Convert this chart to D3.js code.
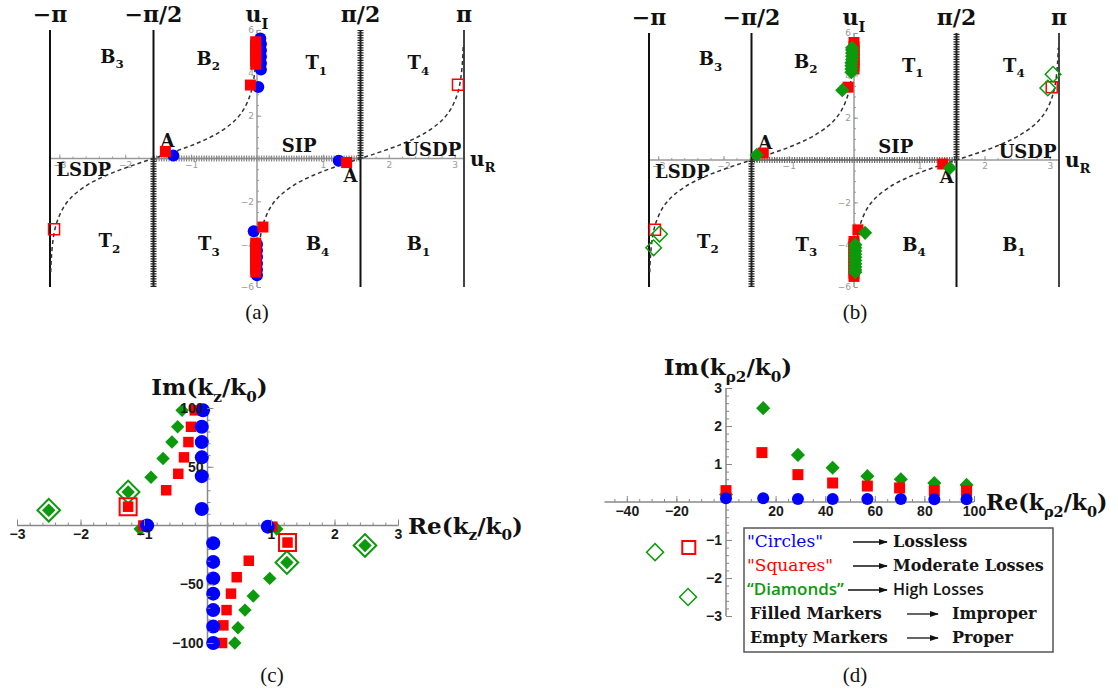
<!DOCTYPE html>
<html>
<head>
<meta charset="utf-8">
<script src="https://cdn.jsdelivr.net/npm/d3@7"></script>
<style>
  body { margin: 0; background: #fff; }
  svg { display: block; }
</style>
</head>
<body>
<div id="chart"></div>
<script>
const PI = Math.PI;

// ---- (a) / (b): complex u-plane ----
const topTickValues = [-PI, -PI / 2, 0, PI / 2, PI];
const topTickLabels = ["−π", "−π/2", "u_I", "π/2", "π"];
const uRTicks = [-3, -2, -1, 1, 2, 3];
const uITicks = [-6, -4, -2, 2, 4, 6];

// [u_R, u_I from, u_I to]
const branchSolid = [[-PI, -6, 6], [-PI / 2, 0, 6], [PI / 2, -6, 0], [PI, -6, 6]];
const branchHatched = [[-PI / 2, -6, 0], [PI / 2, 0, 6]];
const realCut = [-PI / 2, PI / 2];

// dashed steepest descent paths
const sdpLeft = [[-3.13, -5.3], [-3.12, -4.6], [-3.09, -3.69], [-3.04, -3.0], [-2.94, -2.3], [-2.84, -1.89],
  [-2.74, -1.6], [-2.54, -1.17], [-2.34, -0.86], [-2.14, -0.6], [-1.94, -0.38], [-1.74, -0.17], [-1.57, 0],
  [-1.4, 0.17], [-1.2, 0.38], [-1.0, 0.6], [-0.8, 0.86], [-0.6, 1.17], [-0.4, 1.6], [-0.3, 1.89], [-0.2, 2.3],
  [-0.1, 3.0], [-0.05, 3.69], [-0.02, 4.6], [-0.01, 5.3]];
const sdpRight = [[0.01, -5.3], [0.02, -4.6], [0.05, -3.69], [0.1, -3.0], [0.2, -2.3], [0.3, -1.89], [0.4, -1.6],
  [0.6, -1.17], [0.8, -0.86], [1.0, -0.6], [1.2, -0.38], [1.4, -0.17], [1.57, 0], [1.74, 0.17], [1.94, 0.38],
  [2.14, 0.6], [2.34, 0.86], [2.54, 1.17], [2.74, 1.6], [2.84, 1.89], [2.94, 2.3], [3.04, 3.0], [3.09, 3.69],
  [3.12, 4.6], [3.13, 5.3]];

const regionLabels = [
  { text: ["B", ["3"]], at: [-2.2, 4.75] }, { text: ["B", ["2"]], at: [-0.74, 4.65] },
  { text: ["T", ["1"]], at: [0.9, 4.45] }, { text: ["T", ["4"]], at: [2.45, 4.45] },
  { text: ["T", ["2"]], at: [-2.24, -3.87] }, { text: ["T", ["3"]], at: [-0.73, -4.0] },
  { text: ["B", ["4"]], at: [0.92, -4.0] }, { text: ["B", ["1"]], at: [2.45, -4.0] },
  { text: ["LSDP"], at: [-2.63, -0.55] }, { text: ["SIP"], at: [0.64, 0.6] },
  { text: ["USDP"], at: [2.66, 0.38] },
  { text: ["A"], at: [-1.36, 0.8] }, { text: ["A"], at: [1.42, -0.8] }
];

const aCircles = [[0.06, 4.15], [0.06, 4.45], [0.06, 4.75], [0.06, 5.05], [0.06, 5.35], [0.05, 5.6],
  [0.02, 3.34], [-1.27, 0.14], [1.24, -0.1], [-0.05, -3.4],
  [0.0, -4.0], [0.0, -4.3], [0.0, -4.6], [0.0, -4.9], [0.0, -5.2], [0.0, -5.45]];
const aSquares = [[-0.02, 4.4], [-0.02, 4.55], [-0.02, 4.7], [-0.02, 4.85], [-0.02, 5.0], [-0.02, 5.15],
  [-0.02, 5.3], [-0.02, 5.45], [-0.1, 3.43], [-1.39, 0.33], [1.36, -0.19], [0.09, -3.2],
  [-0.02, -3.95], [-0.02, -4.1], [-0.02, -4.25], [-0.02, -4.4], [-0.02, -4.55], [-0.02, -4.7],
  [-0.02, -4.85], [-0.02, -5.0], [-0.02, -5.15], [-0.02, -5.3]];
const aSquaresEmpty = [[-3.08, -3.3], [3.05, 3.44]];

const bSquares = [[0.0, 4.3], [0.0, 4.45], [0.0, 4.6], [0.0, 4.75], [0.0, 4.9], [0.0, 5.05], [0.0, 5.2],
  [0.0, 5.35], [0.0, 5.55], [-0.09, 3.44], [-1.39, 0.33], [1.36, -0.19], [0.06, -3.3],
  [0.0, -3.85], [0.0, -4.0], [0.0, -4.15], [0.0, -4.3], [0.0, -4.45], [0.0, -4.6], [0.0, -4.75],
  [0.0, -4.9], [0.0, -5.05], [0.0, -5.2], [0.0, -5.35], [0.0, -5.5]];
const bDiamonds = [[-0.04, 4.15], [-0.04, 4.3], [-0.04, 4.45], [-0.04, 4.6], [-0.03, 4.75], [-0.03, 4.9],
  [-0.03, 5.05], [-0.03, 5.2], [-0.03, 5.3], [-0.18, 3.3], [-1.49, 0.24], [1.47, -0.38], [0.17, -3.44],
  [0.02, -4.0], [0.02, -4.15], [0.02, -4.3], [0.02, -4.45], [0.02, -4.6], [0.02, -4.75], [0.02, -4.9],
  [0.02, -5.05], [0.02, -5.2], [0.02, -5.3]];
const bSquaresEmpty = [[-3.05, -3.3], [3.03, 3.44]];
const bDiamondsEmpty = [[-2.98, -3.5], [-3.07, -4.15], [3.05, 4.05], [2.97, 3.4]];

// ---- (c): k_z / k_0 ----
const cXTicks = [-3, -2, -1, 1, 2, 3];
const cYTicks = [-100, -50, 50, 100];
const cCircles = [[-0.07, 98], [-0.09, 84], [-0.09, 71], [-0.09, 58], [-0.09, 42], [-0.09, 14],
  [-0.95, 0], [0.95, -1], [0.09, -15], [0.09, -31], [0.09, -45], [0.09, -58], [0.09, -72],
  [0.09, -86], [0.09, -100]];
const cSquares = [[-0.2, 98], [-0.26, 84], [-0.3, 71], [-0.37, 58], [-0.46, 44], [-0.65, 30], [-1.25, 16],
  [-1.01, 0], [1.02, -1], [1.26, -14.5], [0.65, -30], [0.46, -44], [0.37, -58], [0.3, -72],
  [0.25, -85], [0.23, -100]];
const cSquaresEmpty = [[-1.25, 16], [1.26, -14.5]];
const cDiamonds = [[-2.5, 13], [-1.25, 28.5], [-0.89, 41], [-0.7, 57], [-0.56, 71], [-0.47, 84], [-0.4, 98],
  [-1.06, -3], [1.09, -3], [2.48, -17], [1.25, -31.5], [0.98, -45], [0.72, -60], [0.59, -72],
  [0.48, -87], [0.43, -100]];
const cDiamondsEmpty = [[-2.5, 13], [-1.25, 28.5], [2.48, -17], [1.25, -31.5]];

// ---- (d): k_rho2 / k_0 ----
const dXTicks = [-40, -20, 20, 40, 60, 80, 100];
const dYTicks = [-3, -2, -1, 1, 2, 3];
const dCircles = [[0, 0.1], [15, 0.1], [29, 0.08], [43, 0.08], [57, 0.08], [70.5, 0.08], [84, 0.07], [97, 0.07]];
const dSquares = [[0, 0.3], [14.5, 1.3], [29, 0.72], [43, 0.5], [57, 0.42], [70, 0.37], [84, 0.3], [97, 0.29]];
const dDiamonds = [[0, 0.2], [15, 2.47], [29, 1.24], [43, 0.9], [57, 0.68], [70.5, 0.6], [84, 0.5], [97, 0.45]];
const dSquaresEmpty = [[-15, -1.2]];
const dDiamondsEmpty = [[-28.6, -1.32], [-15.3, -2.5]];

const legendKeys = ['"Circles"', '"Squares"', '“Diamonds”', "Filled Markers", "Empty Markers"];
const legendMeanings = ["Lossless", "Moderate Losses", "High Losses", "Improper", "Proper"];

// ---- styles ----
const BLUE = "#0000ff", RED = "#ff0000", GREEN = "#0b9a0b";
const SERIF = "'DejaVu Serif', 'Liberation Serif', serif";
const SANS = "'Liberation Sans', Arial, sans-serif";

const svg = d3.select("#chart").append("svg").attr("width", 1118).attr("height", 692);

svg.append("defs").append("marker")
  .attr("id", "arrow").attr("viewBox", "0 0 10 10").attr("refX", 9).attr("refY", 5)
  .attr("markerWidth", 7).attr("markerHeight", 7).attr("orient", "auto")
  .append("path").attr("d", "M0,1.5L10,5L0,8.5Z").attr("fill", "#111");

const minus = d => d < 0 ? "−" + Math.abs(d) : String(d);

// bold serif text with subscripts: parts like ["B", ["3"]]
function mathText(g, x, y, parts, size, anchor) {
  const t = g.append("text").attr("x", x).attr("y", y)
    .attr("font-family", SERIF).attr("font-weight", "bold").attr("font-size", size)
    .attr("text-anchor", anchor || "middle").attr("fill", "#111");
  let down = false;
  parts.forEach(p => {
    const isSub = Array.isArray(p);
    const s = t.append("tspan").text(isSub ? p[0] : p);
    if (isSub) {
      s.attr("font-size", size * 0.66);
      if (!down) { s.attr("dy", size * 0.3); down = true; }
    } else if (down) { s.attr("dy", -size * 0.3); down = false; }
  });
  return t;
}

function markers(g, data, x, y, shape, side, filled, color, sw) {
  const sym = shape === "circle" ? d3.symbolCircle : d3.symbolSquare;
  const area = shape === "circle" ? PI * side * side / 4 : side * side;
  g.append("g").selectAll("path").data(data).join("path")
    .attr("d", d3.symbol(sym, area)())
    .attr("transform", d => `translate(${x(d[0])},${y(d[1])})` + (shape === "diamond" ? " rotate(45)" : ""))
    .attr("fill", filled ? color : "none")
    .attr("stroke", filled ? "none" : color)
    .attr("stroke-width", sw || 1.5);
}

// Mathematica-like axis ticks on a line through yPix / xPix
function ticksX(g, x, yPix, major, minor, st) {
  const m = g.append("g").attr("transform", `translate(0,${yPix})`)
    .call(d3.axisBottom(x).tickValues(minor).tickSize(-st.minorLen).tickFormat(""));
  const M = g.append("g").attr("transform", `translate(0,${yPix})`)
    .call(d3.axisBottom(x).tickValues(major).tickSize(-st.majorLen).tickPadding(st.pad).tickFormat(minus));
  [m, M].forEach(a => { a.select(".domain").remove(); a.selectAll("line").attr("stroke", st.tickColor); });
  M.selectAll("text").attr("font-family", st.font).attr("font-size", st.size)
    .attr("font-weight", st.weight).attr("fill", st.color);
}
function ticksY(g, y, xPix, major, minor, st) {
  const m = g.append("g").attr("transform", `translate(${xPix},0)`)
    .call(d3.axisLeft(y).tickValues(minor).tickSize(-st.minorLen).tickFormat(""));
  const M = g.append("g").attr("transform", `translate(${xPix},0)`)
    .call(d3.axisLeft(y).tickValues(major).tickSize(-st.majorLen).tickPadding(st.pad).tickFormat(minus));
  [m, M].forEach(a => { a.select(".domain").remove(); a.selectAll("line").attr("stroke", st.tickColor); });
  M.selectAll("text").attr("font-family", st.font).attr("font-size", st.size)
    .attr("font-weight", st.weight).attr("fill", st.color);
}

const smallTicks = { minorLen: 2, majorLen: 4, pad: 3, font: "'DejaVu Sans', sans-serif", size: 9,
  weight: "normal", color: "#9a9a9a", tickColor: "#9a9a9a" };
const boldTicks = { minorLen: 3, majorLen: 6, pad: 4, font: SANS, size: 14,
  weight: "bold", color: "#1a1a1a", tickColor: "#888" };

// ------------------------------------------------------------------
function drawUPlane(g, x, y, layers, hatchGray) {
  const y0 = y(0), x0 = x(0);
  // gray axes
  g.append("line").attr("x1", x(-PI)).attr("x2", x(PI)).attr("y1", y0).attr("y2", y0)
    .attr("stroke", "#9a9a9a").attr("stroke-width", 1.5);
  g.append("line").attr("x1", x0).attr("x2", x0).attr("y1", y(6)).attr("y2", y(-6))
    .attr("stroke", "#9a9a9a").attr("stroke-width", 1.5);
  ticksX(g, x, y0, uRTicks, d3.range(-3, 3.01, 0.2), smallTicks);
  ticksY(g, y, x0, uITicks, d3.range(-6, 6.01, 0.5), smallTicks);

  // hatched real-axis cut
  g.append("line").attr("x1", x(realCut[0])).attr("x2", x(realCut[1])).attr("y1", y0).attr("y2", y0)
    .attr("stroke", hatchGray).attr("stroke-width", 6).attr("stroke-dasharray", "1.2,1.3");
  g.append("line").attr("x1", x(realCut[0])).attr("x2", x(realCut[1])).attr("y1", y0).attr("y2", y0)
    .attr("stroke", hatchGray).attr("stroke-width", 1.5);

  // branch lines
  g.selectAll(".solid").data(branchSolid).join("line")
    .attr("x1", d => x(d[0])).attr("x2", d => x(d[0]))
    .attr("y1", d => y(d[1])).attr("y2", d => y(d[2]))
    .attr("stroke", d => d[0] === PI ? "#444" : "#111").attr("stroke-width", 2);
  branchHatched.forEach(d => {
    g.append("line").attr("x1", x(d[0])).attr("x2", x(d[0])).attr("y1", y(d[1])).attr("y2", y(d[2]))
      .attr("stroke", "#222").attr("stroke-width", 6).attr("stroke-dasharray", "1.2,1.3");
    g.append("line").attr("x1", x(d[0])).attr("x2", x(d[0])).attr("y1", y(d[1])).attr("y2", y(d[2]))
      .attr("stroke", "#222").attr("stroke-width", 2);
  });

  // SDP dashed curves
  const line = d3.line().x(d => x(d[0])).y(d => y(d[1])).curve(d3.curveCatmullRom);
  [sdpLeft, sdpRight].forEach(c => g.append("path").attr("d", line(c)).attr("fill", "none")
    .attr("stroke", "#333").attr("stroke-width", 1.5).attr("stroke-dasharray", "4,3"));

  // labels
  topTickValues.forEach((v, i) => {
    const lab = topTickLabels[i];
    const parts = lab === "u_I" ? ["u", ["I"]] : [lab];
    mathText(g, x(v), y(6) - 8, parts, 22);
  });
  mathText(g, x(PI) + 6, y0 + 7, ["u", ["R"]], 20, "start");
  regionLabels.forEach(r => mathText(g, x(r.at[0]), y(r.at[1]) + 6, r.text, 18));

  layers.forEach(l => markers(g, l.data, x, y, l.shape, l.side, l.filled, l.color, l.sw));
}

// (a)
const xa = d3.scaleLinear().domain([-PI, PI]).range([50, 464]);
const ya = d3.scaleLinear().domain([-6, 6]).range([287, 30]);
drawUPlane(svg.append("g"), xa, ya, [
  { data: aCircles, shape: "circle", side: 12, filled: true, color: BLUE },
  { data: aSquares, shape: "square", side: 11, filled: true, color: RED },
  { data: aSquaresEmpty, shape: "square", side: 11, filled: false, color: RED, sw: 1.5 }
], "#8a8a8a");

// (b)
const xb = d3.scaleLinear().domain([-PI, PI]).range([649, 1059]);
const yb = d3.scaleLinear().domain([-6, 6]).range([287, 33]);
drawUPlane(svg.append("g"), xb, yb, [
  { data: bSquares, shape: "square", side: 11, filled: true, color: RED },
  { data: bDiamonds, shape: "diamond", side: 10, filled: true, color: GREEN },
  { data: bSquaresEmpty, shape: "square", side: 11, filled: false, color: RED, sw: 1.5 },
  { data: bDiamondsEmpty, shape: "diamond", side: 11, filled: false, color: GREEN, sw: 1.5 }
], "#6a6a6a");

// (c)
const gc = svg.append("g");
const xc = d3.scaleLinear().domain([-3, 3]).range([17, 398]);
const yc = d3.scaleLinear().domain([-100, 100]).range([643, 408]);
gc.append("line").attr("x1", xc(-3)).attr("x2", xc(3)).attr("y1", yc(0)).attr("y2", yc(0))
  .attr("stroke", "#888").attr("stroke-width", 1.5);
gc.append("line").attr("x1", xc(0)).attr("x2", xc(0)).attr("y1", yc(100)).attr("y2", yc(-100))
  .attr("stroke", "#888").attr("stroke-width", 1.5);
markers(gc, cDiamondsEmpty, xc, yc, "diamond", 16, false, GREEN, 2);
markers(gc, cSquaresEmpty, xc, yc, "square", 17, false, RED, 2);
markers(gc, cDiamonds, xc, yc, "diamond", 9.5, true, GREEN);
markers(gc, cSquares, xc, yc, "square", 10.5, true, RED);
markers(gc, cCircles, xc, yc, "circle", 14, true, BLUE);
ticksX(gc, xc, yc(0), cXTicks, d3.range(-3, 3.01, 0.2), boldTicks);
ticksY(gc, yc, xc(0), cYTicks, d3.range(-100, 100.1, 10), boldTicks);
mathText(gc, xc(0) + 2, 395, ["Im(k", ["z"], "/k", ["0"], ")"], 23);
mathText(gc, xc(3) + 10, yc(0) + 8, ["Re(k", ["z"], "/k", ["0"], ")"], 23, "start");

// (d)
const gd = svg.append("g");
const xd = d3.scaleLinear().domain([0, 100]).range([726, 974]);
const yd = d3.scaleLinear().domain([-3, 3]).range([616, 388]);
gd.append("line").attr("x1", xd(-49)).attr("x2", xd(100)).attr("y1", yd(0)).attr("y2", yd(0))
  .attr("stroke", "#888").attr("stroke-width", 1.5);
gd.append("line").attr("x1", xd(0)).attr("x2", xd(0)).attr("y1", yd(3)).attr("y2", yd(-3))
  .attr("stroke", "#888").attr("stroke-width", 1.5);
ticksX(gd, xd, yd(0), dXTicks, d3.range(-45, 100.1, 5), boldTicks);
ticksY(gd, yd, xd(0), dYTicks, d3.range(-3, 3.01, 0.2), boldTicks);
markers(gd, dDiamonds, xd, yd, "diamond", 10, true, GREEN);
markers(gd, dSquares, xd, yd, "square", 11, true, RED);
markers(gd, dCircles, xd, yd, "circle", 12, true, BLUE);
markers(gd, dSquaresEmpty, xd, yd, "square", 13, false, RED, 2);
markers(gd, dDiamondsEmpty, xd, yd, "diamond", 12, false, GREEN, 1.5);
mathText(gd, xd(0) + 2, 375, ["Im(k", ["ρ2"], "/k", ["0"], ")"], 23);
mathText(gd, xd(100) + 12, yd(0) + 8, ["Re(k", ["ρ2"], "/k", ["0"], ")"], 22, "start");

// legend
const lg = gd.append("g");
lg.append("rect").attr("x", 744).attr("y", 528).attr("width", 309).attr("height", 124)
  .attr("fill", "#fff").attr("stroke", "#555").attr("stroke-width", 1.5);
const keyColors = [BLUE, RED, GREEN, "#151515", "#151515"];
const rowY = d3.scalePoint().domain(d3.range(5)).range([547, 643]);
legendKeys.forEach((k, i) => {
  const yy = rowY(i);
  const sansRow = i === 2;
  lg.append("text").attr("x", i < 3 ? 747 : 750).attr("y", yy).text(k)
    .attr("font-family", sansRow ? "'Open Sans', sans-serif" : SERIF)
    .attr("font-weight", i < 2 ? "normal" : (sansRow ? 600 : "bold"))
    .attr("font-size", i < 3 ? 17 : 16).attr("fill", keyColors[i]);
  const ax0 = i < 3 ? (i === 2 ? 848 : 853) : 907, ax1 = i < 3 ? 887 : 938;
  lg.append("line").attr("x1", ax0).attr("x2", ax1).attr("y1", yy - 5).attr("y2", yy - 5)
    .attr("stroke", "#111").attr("stroke-width", 1.3).attr("marker-end", "url(#arrow)");
  lg.append("text").attr("x", i < 3 ? 893 : 952).attr("y", yy).text(legendMeanings[i])
    .attr("font-family", sansRow ? "'Open Sans', sans-serif" : SERIF)
    .attr("font-weight", sansRow ? 600 : "bold").attr("font-size", 16).attr("fill", "#151515");
});

// panel captions
[["(a)", 257, 319], ["(b)", 855, 319], ["(c)", 272, 682], ["(d)", 855, 682]].forEach(c => {
  svg.append("text").attr("x", c[1]).attr("y", c[2]).attr("text-anchor", "middle")
    .attr("font-family", "'Liberation Serif', serif").attr("font-size", 21).attr("fill", "#111").text(c[0]);
});
</script>
</body>
</html>
